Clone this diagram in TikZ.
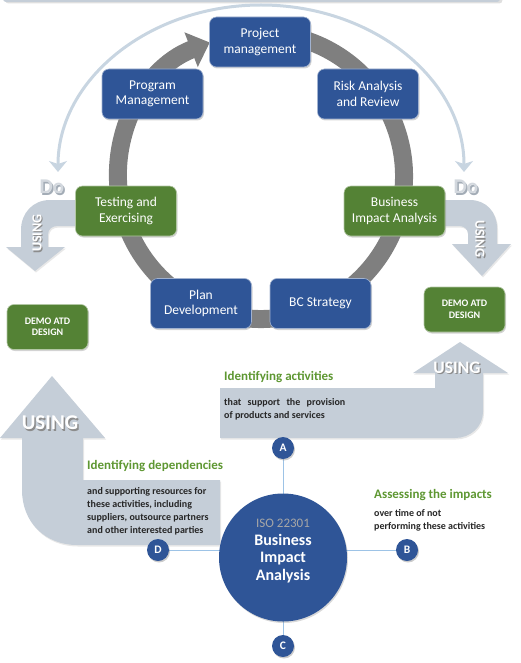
\documentclass[tikz,border=0pt]{standalone}
\usepackage{fontspec}
\setmainfont{Carlito}
\usetikzlibrary{arrows.meta,shadows}
\definecolor{bx}{HTML}{2F5597}
\definecolor{gr}{HTML}{548235}
\definecolor{band}{HTML}{C5CED8}
\definecolor{arcc}{HTML}{C8D5E1}
\definecolor{ringc}{HTML}{7F7F7F}
\definecolor{head}{HTML}{5E9732}
\definecolor{bodyc}{HTML}{262626}
\definecolor{isog}{HTML}{A6A6A6}
\definecolor{lnc}{HTML}{9DC3E6}
\definecolor{doc}{HTML}{D3D8DE}
\definecolor{dosh}{HTML}{A3ACB6}
\newcommand\myfs[2]{\fontsize{#1}{#2}\selectfont}
\pgfdeclarelayer{back}
\pgfdeclarelayer{background}
\pgfsetlayers{back,background,main}
\tikzset{
  box/.style={rounded corners=7pt, minimum width=101pt, minimum height=50pt, inner sep=2pt,
    align=center, text=white, line width=0.6pt, font=\myfs{13.5}{15.5},
    drop shadow={opacity=0.35,shadow xshift=1pt,shadow yshift=-1.5pt}},
  bluebox/.style={box, fill=bx, draw=white!55!bx},
  greenbox/.style={box, fill=gr, draw=white!55!gr},
  demobox/.style={box, fill=gr, draw=white!55!gr, minimum width=81pt, minimum height=45pt,
    font=\bfseries\myfs{10}{11.5}},
  bandshape/.style={fill=band, draw=none, drop shadow={opacity=0.18,shadow xshift=1pt,shadow yshift=-1.5pt}},
  letter/.style={circle, fill=bx, text=white, minimum size=22pt, inner sep=0pt,
    font=\bfseries\myfs{11.5}{12}, drop shadow={opacity=0.4,shadow xshift=1pt,shadow yshift=-1.5pt}},
  ln/.style={draw=lnc, line width=0.9pt},
  headtxt/.style={anchor=west, inner sep=2pt, text=head, font=\bfseries\myfs{13}{15}},
  bodytxt/.style={anchor=north west, inner sep=2pt, align=left, text=bodyc, font=\bfseries\myfs{10}{13}},
  dotxt/.style={inner sep=0pt, text=doc, font=\bfseries\myfs{21}{24}},
  doshadow/.style={inner sep=0pt, text=dosh, font=\bfseries\myfs{21}{24}},
  usetxt/.style={inner sep=0pt, text=white, font=\bfseries\myfs{#1}{#1}},
  useshadow/.style={inner sep=0pt, text=black!45, font=\bfseries\myfs{#1}{#1}}
}
\begin{document}
\begin{tikzpicture}[x=1pt,y=-1pt]
\useasboundingbox (0,0) rectangle (520,663);

% top band
\fill[band, rounded corners=3pt, drop shadow={opacity=0.25,shadow yshift=-1.5pt}] (3,-8) rectangle (500,2);

% light arc with arrows
\draw[line width=3pt, arcc, {Stealth[width=18pt,length=11pt,inset=3pt]}-{Stealth[width=18pt,length=11pt,inset=3pt]}]
  (464,172) arc[start angle=0, end angle=-180, x radius=203, y radius=167];

% grey cycle ring
\draw[line width=18pt, ringc, -{Triangle[width=36pt,length=20pt]}]
  (261,176) ++(-105:143) arc[start angle=-105, end angle=249, radius=143];

% boxes
\node[bluebox] (proj) at (260,42) {Project\\management};
\node[bluebox] (prog) at (152.5,94) {Program\\Management};
\node[bluebox] (risk) at (368,94) {Risk Analysis\\and Review};
\node[greenbox] (test) at (126,211) {Testing and\\Exercising};
\node[greenbox] (bia) at (394.5,211) {Business\\Impact Analysis};
\node[bluebox] (plan) at (201,303.5) {Plan\\Development};
\node[bluebox] (bcs) at (320.5,303.5) {BC Strategy};
\node[demobox] (demoL) at (47.5,327) {DEMO ATD\\DESIGN};
\node[demobox] (demoR) at (464.5,309.5) {DEMO ATD\\DESIGN};

% small curved USING arrows
\begin{pgfonlayer}{background}
\path[bandshape] (80,200) -- (50,200) .. controls (33,200) and (21,213) .. (21,230) -- (21,247)
  -- (6,247) -- (35,271) -- (65,247) -- (48,247) -- (48,235) .. controls (48,229) and (52,226) .. (58,226)
  -- (80,226) -- cycle;
\path[bandshape] (440,200) -- (470,200) .. controls (486,200) and (497,212) .. (497,228) -- (497,244)
  -- (511,244) -- (482,276) -- (452,244) -- (468,244) -- (468,234) .. controls (468,229) and (464,226) .. (459,226)
  -- (440,226) -- cycle;
\end{pgfonlayer}
\node[useshadow=14, rotate=90] (uLs) at (38.2,234.2) {USING};
\node[usetxt=14, rotate=90] (uL) at (37,233) {USING};
\node[useshadow=14, rotate=-90] (uRs) at (481.2,240.2) {USING};
\node[usetxt=14, rotate=-90] (uR) at (480,239) {USING};

% Do labels
\node[doshadow] (doLs) at (53.3,188.3) {Do};
\node[dotxt] (doL) at (52,187) {Do};
\node[doshadow] (doRs) at (467.3,188.3) {Do};
\node[dotxt] (doR) at (466,187) {Do};

% big lower bands
\begin{pgfonlayer}{back}
\path[bandshape] (52,376) -- (105,438) -- (83,438) -- (83,480) -- (220,480) -- (220,545) -- (77,545)
  .. controls (45,545) and (22,522) .. (22,490) -- (22,438) -- (0,438) -- cycle;
\path[bandshape] (220,388) -- (435,388) -- (435,373) -- (413,373) -- (460,342) -- (508,373) -- (483,373)
  -- (483,412) .. controls (483,427) and (470,438) .. (455,438) -- (220,438) -- cycle;
\end{pgfonlayer}
\node[useshadow=21] (bigUs) at (51.5,424.5) {USING};
\node[usetxt=21] (bigU) at (50,423) {USING};
\node[useshadow=17.5] (upUs) at (458.2,369.2) {USING};
\node[usetxt=17.5] (upU) at (457,368) {USING};

% texts
\node[headtxt] (h1) at (222,377) {Identifying activities};
\node[bodytxt] (b1) at (222,396) {\makebox[121pt][s]{that support the provision}\\of products and services};
\node[headtxt] (h2) at (85,466) {Identifying dependencies};
\node[bodytxt] (b2) at (85,485) {and supporting resources for\\these activities, including\\suppliers, outsource partners\\and other interested parties};
\node[headtxt] (h3) at (372,495) {Assessing the impacts};
\node[bodytxt] (b3) at (372,507) {over time of not\\performing these activities};

% central circle and letters
\node[circle, fill=bx, minimum size=128pt, inner sep=0pt,
  drop shadow={opacity=0.3,shadow xshift=1pt,shadow yshift=-1.5pt}] (iso) at (283,557.5) {};
\node[align=center, inner sep=0pt, text=white, font=\bfseries\myfs{16}{17.7}] (isot) at (283,551)
  {{\color{isog}\mdseries\myfs{13}{17.7}ISO 22301}\\Business\\Impact\\Analysis};
\node[letter] (A) at (283,448) {A};
\node[letter] (B) at (407,550) {B};
\node[letter] (C) at (283,646) {C};
\node[letter] (D) at (158,550) {D};
\begin{pgfonlayer}{background}
\draw[ln] (D) -- (B);
\draw[ln] (A) -- (C);
\end{pgfonlayer}
\end{tikzpicture}
\end{document}
